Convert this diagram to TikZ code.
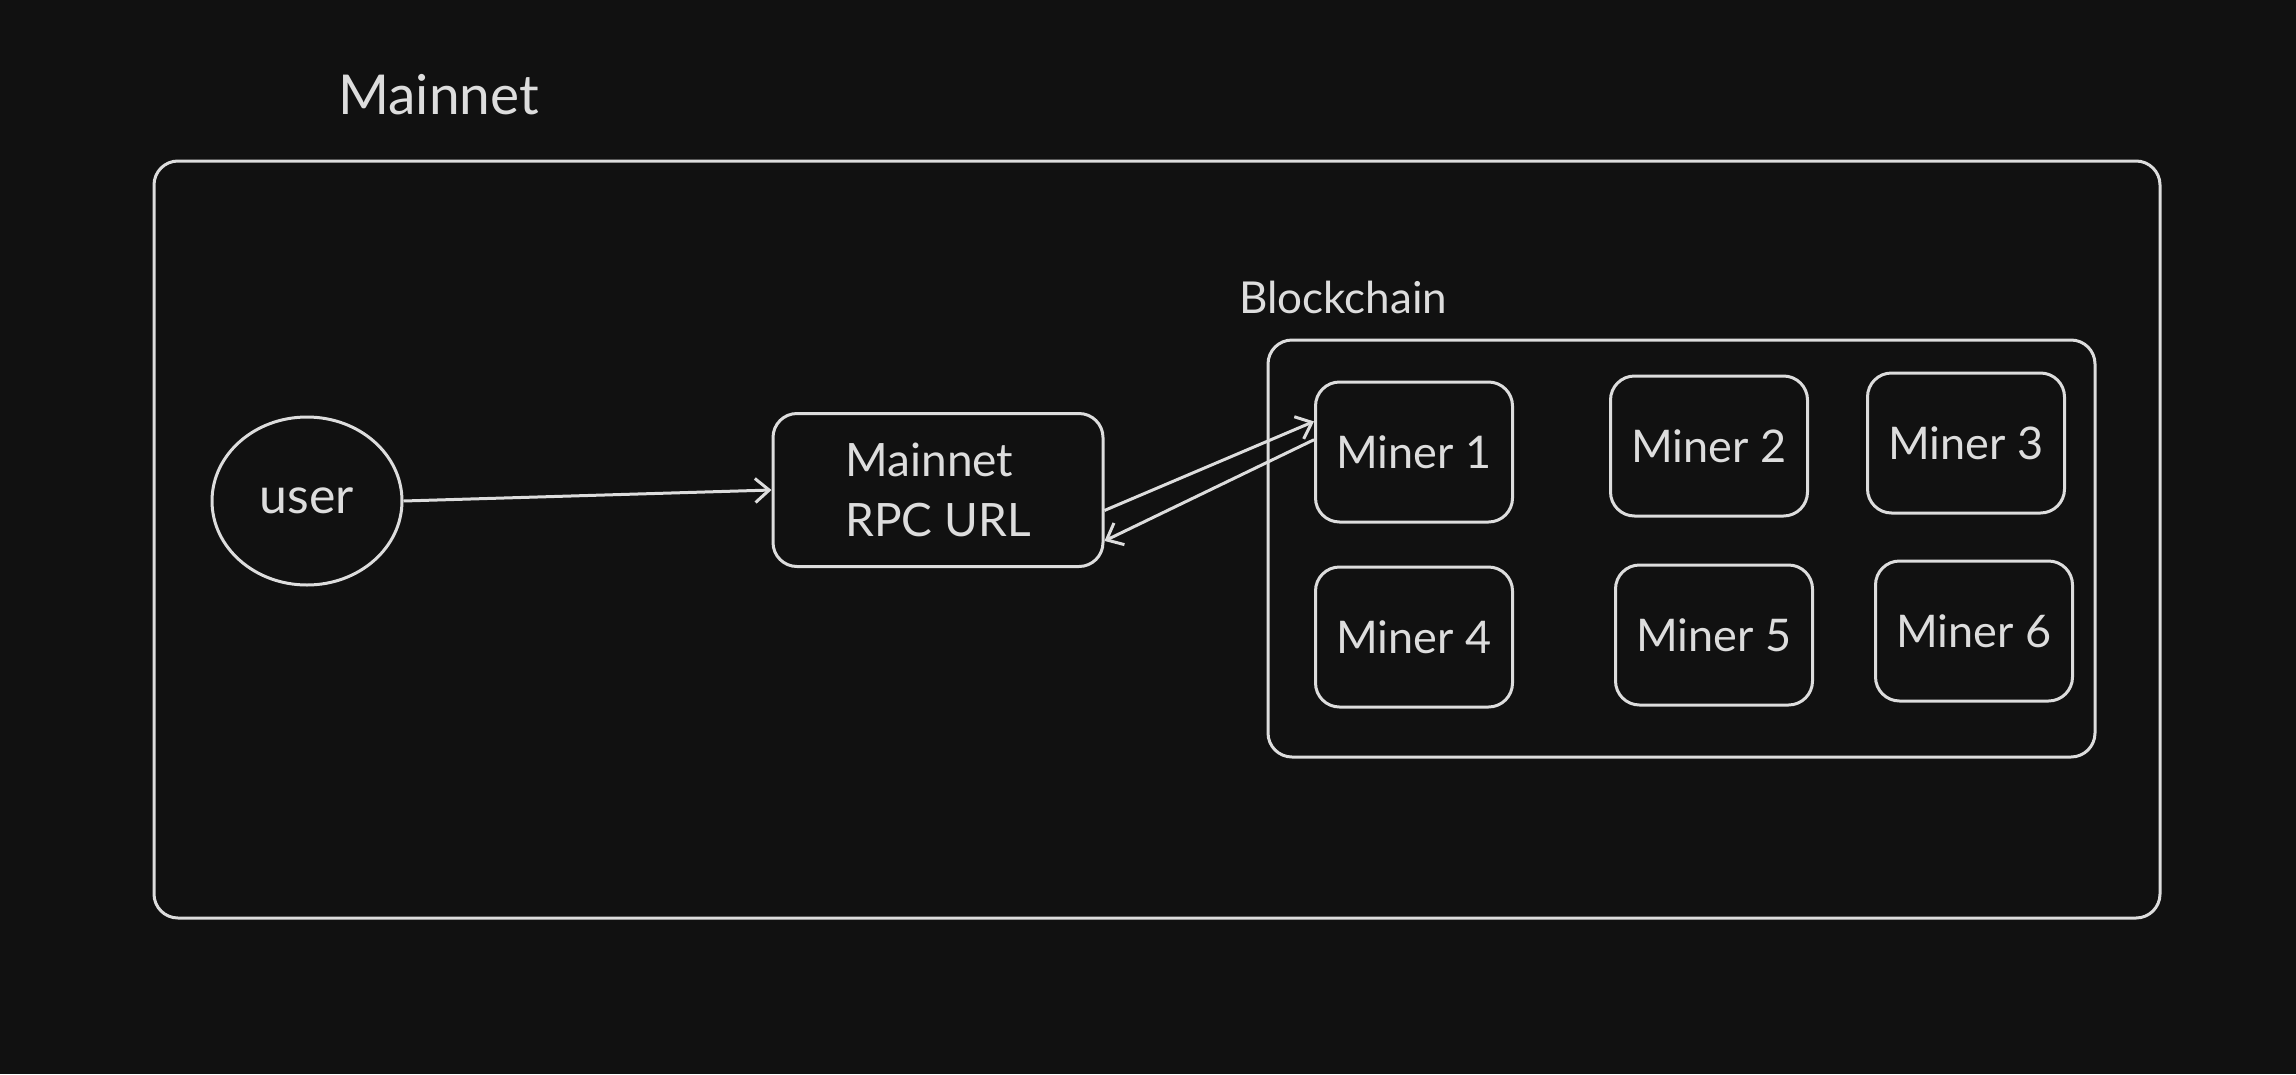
\documentclass[tikz,border=0pt]{standalone}
\usepackage{fontspec}
\setmainfont{Lato}
\usetikzlibrary{arrows.meta,shapes.geometric}
\definecolor{bgdark}{HTML}{111111}
\definecolor{chalk}{HTML}{DDDDDD}
\begin{document}
\begin{tikzpicture}[x=1pt, y=-1pt,
    box/.style={
        draw=chalk,
        line width=3pt,
        rounded corners=24pt,
        text=chalk,
        align=center
    },
    miner/.style={
        box,
        minimum width=197pt,
        minimum height=140pt,
        font=\fontsize{45}{52}\selectfont
    },
    title/.style={
        text=chalk,
        inner sep=0pt,
        anchor=west
    },
    link/.style={
        draw=chalk,
        line width=3pt,
        -{Straight Barb[length=14pt, width=24pt, line width=3pt]}
    }
]

%------------------------------------------------
% Fondo
%------------------------------------------------
\fill[bgdark] (0,0) rectangle (2296,1074);
\useasboundingbox (0,0) rectangle (2296,1074);

%------------------------------------------------
% Red principal
%------------------------------------------------
\node[title, font=\fontsize{55}{64}\selectfont] (mainnetlabel) at (338,95) {Mainnet};
\node[box, minimum width=2006pt, minimum height=757pt] (mainnet) at (1157,539.5) {};

\node[box, ellipse, rounded corners=0pt, minimum width=190pt, minimum height=168pt, inner sep=0pt,
      font=\fontsize{50}{58}\selectfont] (user) at (307,501) {user};

\node[box, align=left, minimum width=330pt, minimum height=153pt,
      font=\fontsize{46}{60}\selectfont] (rpc) at (938,490) {Mainnet\\RPC URL};

%------------------------------------------------
% Blockchain
%------------------------------------------------
\node[title, font=\fontsize{44}{52}\selectfont] (chainlabel) at (1239,297) {Blockchain};
\node[box, minimum width=827pt, minimum height=417pt] (chain) at (1681.5,548.5) {};

\foreach \i/\x/\y in {1/1414/452, 2/1709/446, 3/1966/443,
                      4/1414/637, 5/1714/635, 6/1974/631} {
    \node[miner] (m\i) at (\x,\y) {Miner \i};
}

%------------------------------------------------
% Conexiones
%------------------------------------------------
\draw[link] (user.east) -- (rpc.west);
\draw[link] (rpc.-7) -- (m1.163);
\draw[link] (m1.173) -- (rpc.-17);

\end{tikzpicture}
\end{document}
